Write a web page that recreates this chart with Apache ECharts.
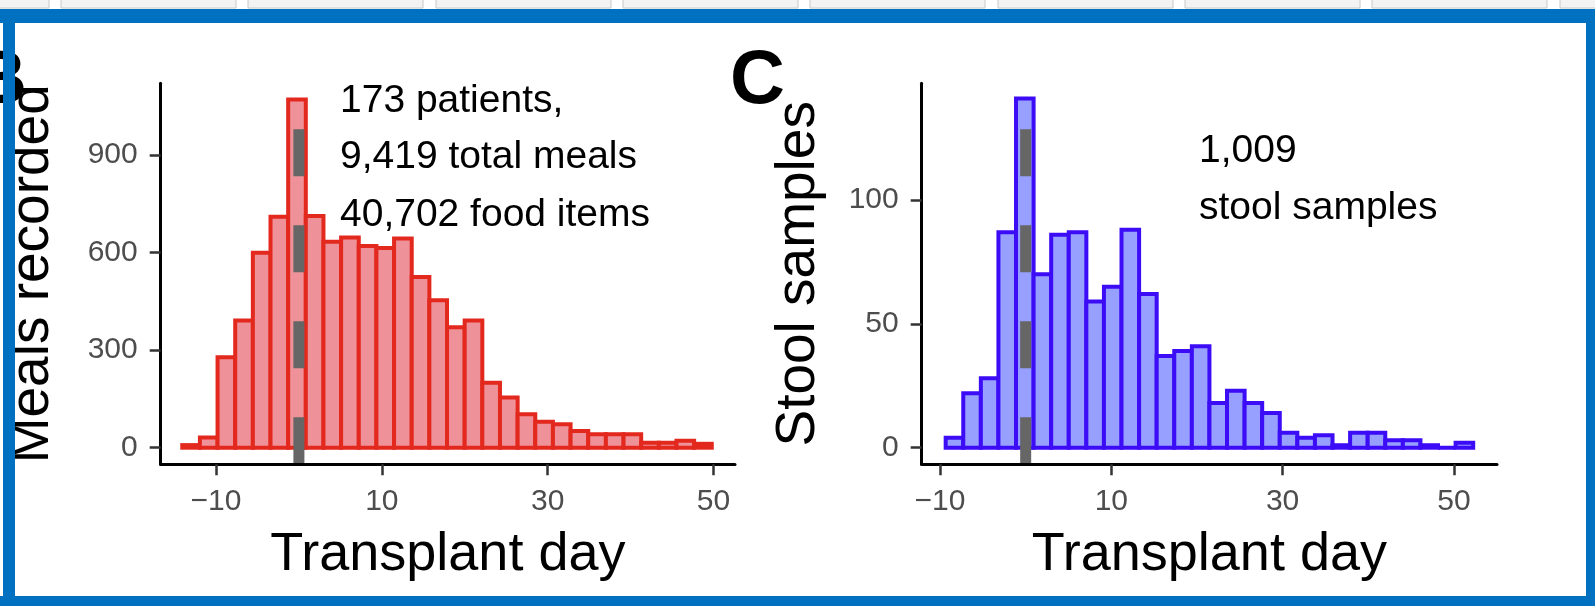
<!DOCTYPE html>
<html>
<head>
<meta charset="utf-8">
<script src="https://cdn.jsdelivr.net/npm/echarts@6/dist/echarts.min.js"></script>
<style>
  html, body { margin: 0; padding: 0; background: #fff; }
  #chart { width: 1595px; height: 606px; }
</style>
</head>
<body>
<div id="chart"></div>
<script>
// Meals recorded per transplant-day bin (30 equal-width bins)
const mealCounts = [8, 31, 278, 391, 599, 710, 1070, 712, 633, 646, 620, 614, 643, 525, 453,
                    370, 391, 200, 154, 103, 80, 72, 51, 41, 41, 41, 15, 15, 21, 12];
const mealBinStart = -14.07;
const mealBinWidth = 2.129;

// Stool samples per transplant-day bin (30 equal-width bins)
const stoolCounts = [4, 22, 28, 87, 141, 70, 86, 87, 59, 65, 88, 62, 37, 39, 41,
                     18, 23, 18, 14, 6, 4, 5, 1, 6, 6, 3, 3, 1, 0, 2];
const stoolBinStart = -9.34;
const stoolBinWidth = 2.053;

const dayTicks = [-10, 10, 30, 50];
const mealTicks = [0, 300, 600, 900];
const stoolTicks = [0, 50, 100];
const transplantDay = [0];

const mealNotes = ['173 patients,', '9,419 total meals', '40,702 food items'];
const stoolNotes = ['1,009', 'stool samples'];

const FONT = '"Liberation Sans", Arial, Helvetica, sans-serif';

function toBins(counts, start, width) {
  return counts.map((c, i) => [start + i * width, start + (i + 1) * width, c]);
}

function histItem(fill, stroke) {
  return function (params, api) {
    const a = api.coord([api.value(0), api.value(2)]);
    const b = api.coord([api.value(1), 0]);
    return {
      type: 'rect',
      shape: { x: a[0], y: a[1], width: b[0] - a[0], height: b[1] - a[1] },
      style: { fill: fill, stroke: stroke, lineWidth: 4 }
    };
  };
}

// vertical dashed marker spanning the whole panel at the transplant day
function dayMarker(params, api) {
  const cs = params.coordSys;
  const x = api.coord([api.value(0), 0])[0];
  return {
    type: 'line',
    shape: { x1: x, y1: cs.y + cs.height, x2: x, y2: cs.y },
    style: { stroke: '#666666', lineWidth: 11, lineDash: [47, 49], lineCap: 'butt' }
  };
}

const minusFmt = v => String(v).replace('-', '\u2212');

function xAxisFor(gridIndex, min, max) {
  return {
    type: 'value', gridIndex, min, max, z: 5,
    name: 'Transplant day', nameLocation: 'middle', nameGap: 64,
    nameTextStyle: { color: '#000', fontSize: 54, fontFamily: FONT },
    axisLine: { show: true, onZero: false, lineStyle: { color: '#000', width: 3 } },
    axisTick: { show: true, length: 11, customValues: dayTicks, lineStyle: { color: '#333', width: 2.5 } },
    axisLabel: { customValues: dayTicks, formatter: minusFmt, color: '#4d4d4d', fontSize: 30, fontFamily: FONT, margin: 22 },
    splitLine: { show: false }
  };
}

function yAxisFor(gridIndex, min, max, ticks, name, gap) {
  return {
    type: 'value', gridIndex, min, max, z: 5,
    name, nameLocation: 'middle', nameRotate: 90, nameGap: gap,
    nameTextStyle: { color: '#000', fontSize: 55, fontFamily: FONT },
    axisLine: { show: true, onZero: false, lineStyle: { color: '#000', width: 3 } },
    axisTick: { show: true, length: 11, customValues: ticks, lineStyle: { color: '#333', width: 2.5 } },
    axisLabel: { customValues: ticks, color: '#4d4d4d', fontSize: 30, fontFamily: FONT, margin: 23 },
    splitLine: { show: false }
  };
}

// page frame and tab strip
const graphics = [];
const tabStarts = [-126, 61, 248, 436, 623, 810, 998, 1185, 1372, 1560];
tabStarts.forEach(x => graphics.push({
  type: 'rect', z: 50,
  shape: { x: x, y: -3, width: 175, height: 11 },
  style: { fill: '#f3f3f3', stroke: '#c8c8c8', lineWidth: 1 }
}));

// panel letters
graphics.push({
  type: 'text', z: 40, x: 27, y: 82,
  style: { text: 'B', font: 'bold 76px ' + FONT, fill: '#000', textAlign: 'right', textVerticalAlign: 'middle' }
});
graphics.push({
  type: 'text', z: 40, x: 730, y: 82,
  style: { text: 'C', font: 'bold 76px ' + FONT, fill: '#000', textAlign: 'left', textVerticalAlign: 'middle' }
});

// panel notes
const mealNoteY = [101, 157, 215];
mealNotes.forEach((t, i) => graphics.push({
  type: 'text', z: 40, x: 340, y: mealNoteY[i],
  style: { text: t, font: '39px ' + FONT, fill: '#000', textAlign: 'left', textVerticalAlign: 'middle' }
}));
const stoolNoteY = [151, 208];
stoolNotes.forEach((t, i) => graphics.push({
  type: 'text', z: 40, x: 1199, y: stoolNoteY[i],
  style: { text: t, font: '39px ' + FONT, fill: '#000', textAlign: 'left', textVerticalAlign: 'middle' }
}));

// blue frame on top
const frameColor = '#0070c0';
[
  { x: 0, y: 9, width: 1595, height: 14 },
  { x: 3, y: 9, width: 12, height: 597 },
  { x: 1586, y: 9, width: 9, height: 597 },
  { x: 0, y: 596, width: 1595, height: 10 }
].forEach(s => graphics.push({ type: 'rect', z: 100, shape: s, style: { fill: frameColor } }));

const chart = echarts.init(document.getElementById('chart'), null, { renderer: 'canvas' });
chart.setOption({
  backgroundColor: '#ffffff',
  animation: false,
  grid: [
    { left: 160.7, top: 83.3, width: 574.3, height: 381 },
    { left: 921.7, top: 83.3, width: 575.3, height: 381 }
  ],
  xAxis: [
    xAxisFor(0, -16.67, 52.6),
    xAxisFor(1, -12.14, 55.03)
  ],
  yAxis: [
    yAxisFor(0, -51, 1120, mealTicks, 'Meals recorded', 100),
    yAxisFor(1, -6.7, 147.1, stoolTicks, 'Stool samples', 95)
  ],
  series: [
    {
      type: 'custom', xAxisIndex: 0, yAxisIndex: 0, z: 2,
      renderItem: histItem('#ef9198', '#e3291e'),
      encode: { x: [0, 1], y: 2 },
      data: toBins(mealCounts, mealBinStart, mealBinWidth)
    },
    {
      type: 'custom', xAxisIndex: 1, yAxisIndex: 1, z: 2,
      renderItem: histItem('#97a0ff', '#3c0cf6'),
      encode: { x: [0, 1], y: 2 },
      data: toBins(stoolCounts, stoolBinStart, stoolBinWidth)
    },
    {
      type: 'custom', xAxisIndex: 0, yAxisIndex: 0, z: 3,
      renderItem: dayMarker, encode: { x: 0 },
      data: transplantDay.map(d => [d])
    },
    {
      type: 'custom', xAxisIndex: 1, yAxisIndex: 1, z: 3,
      renderItem: dayMarker, encode: { x: 0 },
      data: transplantDay.map(d => [d])
    }
  ],
  graphic: graphics
});
</script>
</body>
</html>
